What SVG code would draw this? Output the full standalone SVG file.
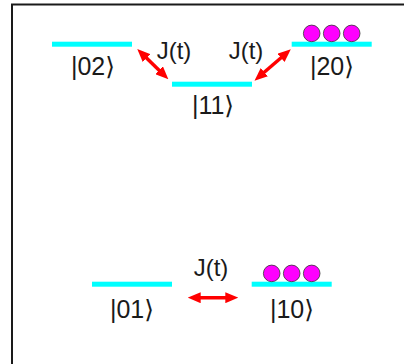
<svg xmlns="http://www.w3.org/2000/svg" width="404" height="364" viewBox="0 0 404 364">
<style>
.bar{fill:#00ffff}
.ball{fill:#ff00ff;stroke:#333;stroke-width:0.8}
.lbl{font-family:"Liberation Sans","DejaVu Sans",Arial,sans-serif;font-size:25px;fill:#1a1a1a;text-anchor:middle}
.j{font-family:"Liberation Sans",Arial,sans-serif;font-size:24px;fill:#1a1a1a;text-anchor:middle}
.arr{stroke:#ff0000;stroke-width:3.5;fill:none;marker-start:url(#ah);marker-end:url(#ah)}
</style>
<defs>
<marker id="ah" markerUnits="userSpaceOnUse" markerWidth="13" markerHeight="11" refX="4" refY="5.5" orient="auto-start-reverse" viewBox="0 0 13 11">
<path d="M0,0 L13,5.5 L0,11 z" fill="#ff0000"/>
</marker>
</defs>
<rect x="12" y="4.5" width="400" height="370" fill="#ffffff" stroke="#1a1a1a" stroke-width="2"/>
<g id="s02">
<rect class="bar" x="52" y="41.7" width="80" height="5"/>
<text class="lbl" x="93" y="75">|02⟩</text>
</g>
<g id="s11">
<rect class="bar" x="172" y="81.7" width="80" height="5"/>
<text class="lbl" x="213" y="114">|11⟩</text>
</g>
<g id="s20">
<rect class="bar" x="291.7" y="41.7" width="80" height="5"/>
<circle class="ball" cx="311.7" cy="33.4" r="8.3"/>
<circle class="ball" cx="331.7" cy="33.4" r="8.3"/>
<circle class="ball" cx="351.7" cy="33.4" r="8.3"/>
<text class="lbl" x="332" y="75">|20⟩</text>
</g>
<g id="s01">
<rect class="bar" x="92" y="281.7" width="80" height="5"/>
<text class="lbl" x="132" y="318">|01⟩</text>
</g>
<g id="s10">
<rect class="bar" x="251.7" y="281.7" width="80" height="5"/>
<circle class="ball" cx="271.7" cy="273.4" r="8.3"/>
<circle class="ball" cx="291.7" cy="273.4" r="8.3"/>
<circle class="ball" cx="311.7" cy="273.4" r="8.3"/>
<text class="lbl" x="292" y="318">|10⟩</text>
</g>
<g id="connectors">
<path class="arr" d="M143.7,55.3 L161.9,73"/>
<path class="arr" d="M284,55.2 L261.3,74.8"/>
<path class="arr" d="M196.7,297.7 L229.3,297.7"/>
<text class="j" x="174" y="58.5">J(t)</text>
<text class="j" x="246" y="58.5">J(t)</text>
<text class="j" x="211" y="276">J(t)</text>
</g>
</svg>
